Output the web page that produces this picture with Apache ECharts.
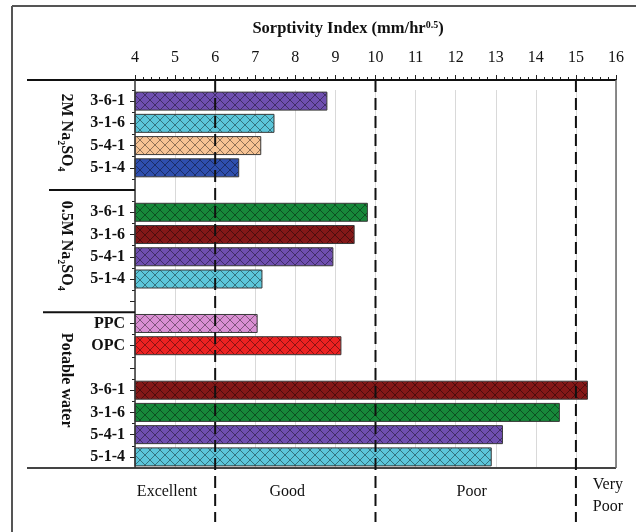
<!DOCTYPE html>
<html><head><meta charset="utf-8">
<script src="https://cdn.jsdelivr.net/npm/echarts@6/dist/echarts.min.js"></script>
<style>html,body{margin:0;padding:0;background:#fff}#c{width:636px;height:532px}</style>
</head><body><div id="c"></div>
<script>
// ---- data ----
const categories = ['3-6-1','3-1-6','5-4-1','5-1-4','','3-6-1','3-1-6','5-4-1','5-1-4','','PPC','OPC','','3-6-1','3-1-6','5-4-1','5-1-4'];
const values = [8.80,7.48,7.15,6.60,null,9.81,9.48,8.95,7.18,null,7.06,9.15,null,15.30,14.60,13.18,12.90];
const barColors = ['#6f4fb0','#5cc6da','#f6c394','#2f4fae',null,'#17883a','#841818','#6f4fb0','#5cc6da',null,'#d98fd2','#ec2222',null,'#841818','#17883a','#6f4fb0','#5cc6da'];
const groupNames = [['2M Na','2','SO','4'],['0.5M Na','2','SO','4'],['Potable water']];
const groupRows = [[0,3],[5,8],[10,16]];
const xMin = 4, xMax = 16, xStep = 1;
const thresholds = [6, 10, 15];
const ratingLabels = ['Excellent','Good','Poor','Very\nPoor'];
const ratingAnchors = [4.8, 7.8, 12.4, 15.42];

const SERIF = '"Liberation Serif","Times New Roman",serif';

function hatch(color){
  const c = document.createElement('canvas');
  c.width = 10; c.height = 10;
  const g = c.getContext('2d');
  g.fillStyle = color; g.fillRect(0,0,10,10);
  g.strokeStyle = 'rgba(0,0,0,0.42)'; g.lineWidth = 1;
  g.beginPath();
  g.moveTo(-1,-1); g.lineTo(11,11);
  g.moveTo(11,-1); g.lineTo(-1,11);
  g.stroke();
  return {image:c, repeat:'repeat'};
}

const rowIds = categories.map((c,i)=>i+'|'+c);
const barData = values.map((v,i)=> v==null ? '-' : {value:v, itemStyle:{color:hatch(barColors[i])}});

const chart = echarts.init(document.getElementById('c'));
chart.setOption({
  animation:false,
  grid:{left:135,right:20,top:90,bottom:64},
  xAxis:{type:'value',position:'top',offset:10,min:xMin,max:xMax,interval:xStep,
    axisLine:{show:false},
    axisTick:{show:true,length:5,lineStyle:{color:'#222'}},
    minorTick:{show:true,splitNumber:5,length:3,lineStyle:{color:'#222'}},
    axisLabel:{margin:14,fontFamily:SERIF,fontSize:16,color:'#111'},
    splitLine:{show:true,lineStyle:{color:'#d9d9d9'}}},
  yAxis:[
    {type:'category',inverse:true,data:rowIds,position:'left',
     axisLine:{show:false},
     axisTick:{show:true,alignWithLabel:true,interval:0,length:5,lineStyle:{color:'#222'}},
     axisLabel:{interval:0,margin:10,formatter:v=>v.split('|')[1],fontFamily:SERIF,fontWeight:'bold',fontSize:16,color:'#111'}},
    {type:'category',inverse:true,data:rowIds,position:'left',
     axisLine:{show:false},
     axisTick:{show:true,alignWithLabel:false,interval:0,length:3,lineStyle:{color:'#222'}},
     axisLabel:{show:false},splitLine:{show:false}}
  ],
  series:[{type:'bar',yAxisIndex:0,data:barData,barWidth:19,
    itemStyle:{borderColor:'#3a3a3a',borderWidth:1}}]
});

// ---- decorations placed through the axes ----
const px = v => chart.convertToPixel({xAxisIndex:0}, v);
const y0 = chart.convertToPixel({yAxisIndex:0}, rowIds[0]);
const y16 = chart.convertToPixel({yAxisIndex:0}, rowIds[16]);
const slot = (y16 - y0) / 16;
const py = idx => y0 + idx*slot;
const gTop = y0 - slot/2, gBot = y16 + slot/2;
const axTop = gTop - 10;
const xL = px(xMin), xR = px(xMax);
const el = [];
const line = (x1,y1,x2,y2,stroke,w,dash)=>el.push({type:'line',silent:true,z:10,
  shape:{x1,y1,x2,y2},style:{stroke,lineWidth:w,lineDash:dash||null}});

// outer frame (left & top only)
line(12,6,12,532,'#555',2);
line(12,6,636,6,'#555',2);
// plot frame
line(27,axTop,xR,axTop,'#111',2);
line(27,gBot,xR,gBot,'#444',2);
line(xR,axTop,xR,gBot,'#666',1.5);
line(xL,axTop,xL,gBot,'#333',1.5);
// group separators
line(49,py(4),xL,py(4),'#111',2);
line(43,py(9.5),xL,py(9.5),'#111',2);
// rating thresholds
thresholds.forEach(t=>line(px(t),axTop,px(t),522,'#111',2,[12,6]));

// title
el.push({type:'text',silent:true,z:11,x:348,y:29,style:{
  text:'{a|Sorptivity Index (mm/hr}{s|0.5}{a|)}',align:'center',verticalAlign:'middle',
  rich:{a:{fontFamily:SERIF,fontWeight:'bold',fontSize:16.5,fill:'#111',lineHeight:18},
        s:{fontFamily:SERIF,fontWeight:'bold',fontSize:10,fill:'#111',verticalAlign:'top'}}}});

// group labels (rotated)
const groupShift = [-2,0,-10];
groupNames.forEach((parts,gi)=>{
  const [a,b] = groupRows[gi];
  const cy = (py(a)+py(b))/2 + groupShift[gi];
  let text;
  if (parts.length===1) text = '{a|'+parts[0]+'}';
  else text = '{a|'+parts[0]+'}{s|'+parts[1]+'}{a|'+parts[2]+'}{s|'+parts[3]+'}';
  el.push({type:'text',silent:true,z:11,x:66,y:cy,rotation:-Math.PI/2,style:{
    text,align:'center',verticalAlign:'middle',
    rich:{a:{fontFamily:SERIF,fontWeight:'bold',fontSize:16,fill:'#111',lineHeight:20},
          s:{fontFamily:SERIF,fontWeight:'bold',fontSize:10,fill:'#111',verticalAlign:'bottom'}}}});
});

// rating labels
ratingLabels.forEach((t,i)=>{
  const last = i===ratingLabels.length-1;
  el.push({type:'text',silent:true,z:11,x:px(ratingAnchors[i]),y:last?496:492,style:{
    text:t,align:last?'left':'center',verticalAlign:'middle',lineHeight:22,
    fontFamily:SERIF,fontSize:16,fill:'#111'}});
});

chart.setOption({graphic:{elements:el}});
</script></body></html>
